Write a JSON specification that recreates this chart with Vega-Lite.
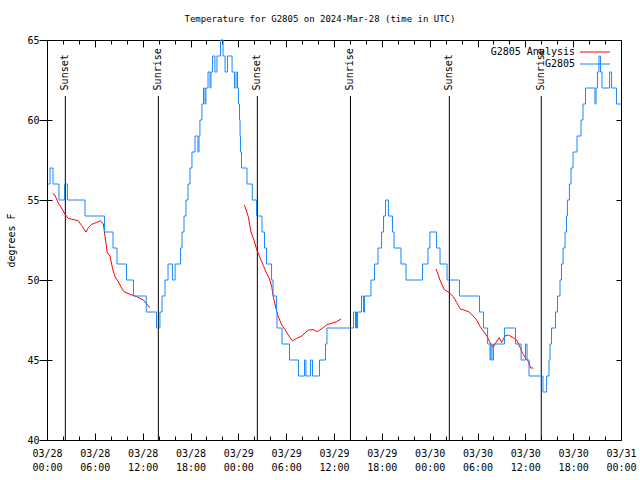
{
  "$schema": "https://vega.github.io/schema/vega-lite/v6.json",
  "width": 574,
  "height": 400,
  "autosize": "none",
  "padding": {"left": 47, "top": 40, "right": 19, "bottom": 40},
  "background": "white",
  "title": {"text": "Temperature for G2805 on 2024-Mar-28 (time in UTC)", "font": "DejaVu Sans Mono", "fontSize": 9, "fontWeight": "normal", "color": "black", "anchor": "middle", "frame": "group", "dx": -14, "offset": 11},
  "config": {
    "view": {"stroke": "black", "strokeWidth": 1},
    "font": "DejaVu Sans Mono",
    "axis": {"domain": false, "grid": false, "labelColor": "black", "tickColor": "black", "titleColor": "black", "labelFont": "DejaVu Sans Mono", "titleFont": "DejaVu Sans Mono", "labelFontSize": 10, "titleFontSize": 10, "titleFontWeight": "normal", "labelFlush": false, "labelOverlap": false, "labelBound": false, "tickWidth": 1}
  },
  "datasets": {
    "sun": [
      {"t": "2024-03-28T02:18:00Z", "label": "Sunset"},
      {"t": "2024-03-28T13:58:00Z", "label": "Sunrise"},
      {"t": "2024-03-29T02:23:00Z", "label": "Sunset"},
      {"t": "2024-03-29T14:04:00Z", "label": "Sunrise"},
      {"t": "2024-03-30T02:28:00Z", "label": "Sunset"},
      {"t": "2024-03-30T14:00:00Z", "label": "Sunrise"}
    ],
    "ana": [
      {"t": "2024-03-28T00:43:00Z", "v": 55.4, "seg": 1},
      {"t": "2024-03-28T01:00:00Z", "v": 55.3, "seg": 1},
      {"t": "2024-03-28T01:25:00Z", "v": 54.8, "seg": 1},
      {"t": "2024-03-28T01:50:00Z", "v": 54.5, "seg": 1},
      {"t": "2024-03-28T02:16:00Z", "v": 54.1, "seg": 1},
      {"t": "2024-03-28T02:40:00Z", "v": 53.85, "seg": 1},
      {"t": "2024-03-28T03:06:00Z", "v": 53.8, "seg": 1},
      {"t": "2024-03-28T03:56:00Z", "v": 53.7, "seg": 1},
      {"t": "2024-03-28T04:21:00Z", "v": 53.4, "seg": 1},
      {"t": "2024-03-28T04:53:00Z", "v": 53.0, "seg": 1},
      {"t": "2024-03-28T05:11:00Z", "v": 53.27, "seg": 1},
      {"t": "2024-03-28T05:37:00Z", "v": 53.48, "seg": 1},
      {"t": "2024-03-28T06:14:00Z", "v": 53.6, "seg": 1},
      {"t": "2024-03-28T06:44:00Z", "v": 53.7, "seg": 1},
      {"t": "2024-03-28T07:04:00Z", "v": 53.5, "seg": 1},
      {"t": "2024-03-28T07:17:00Z", "v": 52.7, "seg": 1},
      {"t": "2024-03-28T07:34:00Z", "v": 51.7, "seg": 1},
      {"t": "2024-03-28T07:54:00Z", "v": 51.5, "seg": 1},
      {"t": "2024-03-28T08:14:00Z", "v": 50.7, "seg": 1},
      {"t": "2024-03-28T08:32:00Z", "v": 50.2, "seg": 1},
      {"t": "2024-03-28T08:56:00Z", "v": 49.9, "seg": 1},
      {"t": "2024-03-28T09:22:00Z", "v": 49.5, "seg": 1},
      {"t": "2024-03-28T09:40:00Z", "v": 49.27, "seg": 1},
      {"t": "2024-03-28T10:25:00Z", "v": 49.1, "seg": 1},
      {"t": "2024-03-28T11:15:00Z", "v": 48.96, "seg": 1},
      {"t": "2024-03-28T12:05:00Z", "v": 48.75, "seg": 1},
      {"t": "2024-03-28T12:31:00Z", "v": 48.5, "seg": 1},
      {"t": "2024-03-28T12:50:00Z", "v": 48.3, "seg": 1},
      {"t": "2024-03-28T12:57:00Z", "v": 48.3, "seg": 1},
      {"t": "2024-03-29T00:45:00Z", "v": 54.7, "seg": 2},
      {"t": "2024-03-29T01:15:00Z", "v": 53.96, "seg": 2},
      {"t": "2024-03-29T01:35:00Z", "v": 53.0, "seg": 2},
      {"t": "2024-03-29T01:58:00Z", "v": 52.5, "seg": 2},
      {"t": "2024-03-29T02:18:00Z", "v": 51.9, "seg": 2},
      {"t": "2024-03-29T02:43:00Z", "v": 51.4, "seg": 2},
      {"t": "2024-03-29T03:08:00Z", "v": 50.9, "seg": 2},
      {"t": "2024-03-29T03:34:00Z", "v": 50.4, "seg": 2},
      {"t": "2024-03-29T03:53:00Z", "v": 50.1, "seg": 2},
      {"t": "2024-03-29T04:11:00Z", "v": 49.6, "seg": 2},
      {"t": "2024-03-29T04:23:00Z", "v": 48.96, "seg": 2},
      {"t": "2024-03-29T04:41:00Z", "v": 48.3, "seg": 2},
      {"t": "2024-03-29T05:01:00Z", "v": 47.7, "seg": 2},
      {"t": "2024-03-29T05:26:00Z", "v": 47.2, "seg": 2},
      {"t": "2024-03-29T05:51:00Z", "v": 46.9, "seg": 2},
      {"t": "2024-03-29T06:16:00Z", "v": 46.56, "seg": 2},
      {"t": "2024-03-29T06:46:00Z", "v": 46.2, "seg": 2},
      {"t": "2024-03-29T07:19:00Z", "v": 46.35, "seg": 2},
      {"t": "2024-03-29T07:57:00Z", "v": 46.5, "seg": 2},
      {"t": "2024-03-29T08:47:00Z", "v": 46.87, "seg": 2},
      {"t": "2024-03-29T09:24:00Z", "v": 46.9, "seg": 2},
      {"t": "2024-03-29T09:55:00Z", "v": 46.77, "seg": 2},
      {"t": "2024-03-29T10:35:00Z", "v": 47.0, "seg": 2},
      {"t": "2024-03-29T11:05:00Z", "v": 47.2, "seg": 2},
      {"t": "2024-03-29T11:43:00Z", "v": 47.3, "seg": 2},
      {"t": "2024-03-29T12:20:00Z", "v": 47.4, "seg": 2},
      {"t": "2024-03-29T12:53:00Z", "v": 47.56, "seg": 2},
      {"t": "2024-03-30T00:48:00Z", "v": 50.7, "seg": 3},
      {"t": "2024-03-30T01:18:00Z", "v": 50.0, "seg": 3},
      {"t": "2024-03-30T01:50:00Z", "v": 49.4, "seg": 3},
      {"t": "2024-03-30T02:28:00Z", "v": 49.2, "seg": 3},
      {"t": "2024-03-30T02:58:00Z", "v": 48.96, "seg": 3},
      {"t": "2024-03-30T03:23:00Z", "v": 48.6, "seg": 3},
      {"t": "2024-03-30T03:49:00Z", "v": 48.2, "seg": 3},
      {"t": "2024-03-30T04:26:00Z", "v": 48.1, "seg": 3},
      {"t": "2024-03-30T04:58:00Z", "v": 48.0, "seg": 3},
      {"t": "2024-03-30T05:28:00Z", "v": 47.75, "seg": 3},
      {"t": "2024-03-30T05:54:00Z", "v": 47.5, "seg": 3},
      {"t": "2024-03-30T06:19:00Z", "v": 47.1, "seg": 3},
      {"t": "2024-03-30T06:44:00Z", "v": 46.8, "seg": 3},
      {"t": "2024-03-30T07:10:00Z", "v": 46.5, "seg": 3},
      {"t": "2024-03-30T07:34:00Z", "v": 46.1, "seg": 3},
      {"t": "2024-03-30T07:59:00Z", "v": 45.8, "seg": 3},
      {"t": "2024-03-30T08:19:00Z", "v": 46.1, "seg": 3},
      {"t": "2024-03-30T08:44:00Z", "v": 46.4, "seg": 3},
      {"t": "2024-03-30T09:02:00Z", "v": 46.1, "seg": 3},
      {"t": "2024-03-30T09:27:00Z", "v": 46.5, "seg": 3},
      {"t": "2024-03-30T09:52:00Z", "v": 46.56, "seg": 3},
      {"t": "2024-03-30T10:29:00Z", "v": 46.4, "seg": 3},
      {"t": "2024-03-30T10:55:00Z", "v": 46.25, "seg": 3},
      {"t": "2024-03-30T11:20:00Z", "v": 45.8, "seg": 3},
      {"t": "2024-03-30T11:40:00Z", "v": 45.4, "seg": 3},
      {"t": "2024-03-30T12:05:00Z", "v": 45.1, "seg": 3},
      {"t": "2024-03-30T12:23:00Z", "v": 44.9, "seg": 3},
      {"t": "2024-03-30T12:40:00Z", "v": 44.5, "seg": 3},
      {"t": "2024-03-30T13:00:00Z", "v": 44.5, "seg": 3}
    ],
    "obs": [
      {"t": "2024-03-28T00:08:00Z", "v": 56},
      {"t": "2024-03-28T00:23:00Z", "v": 57},
      {"t": "2024-03-28T00:45:00Z", "v": 56},
      {"t": "2024-03-28T01:30:00Z", "v": 55},
      {"t": "2024-03-28T02:12:00Z", "v": 56},
      {"t": "2024-03-28T02:34:00Z", "v": 55},
      {"t": "2024-03-28T04:46:00Z", "v": 54},
      {"t": "2024-03-28T07:13:00Z", "v": 53},
      {"t": "2024-03-28T08:17:00Z", "v": 52},
      {"t": "2024-03-28T08:47:00Z", "v": 51},
      {"t": "2024-03-28T09:58:00Z", "v": 50},
      {"t": "2024-03-28T10:51:00Z", "v": 49},
      {"t": "2024-03-28T12:27:00Z", "v": 48},
      {"t": "2024-03-28T13:44:00Z", "v": 47},
      {"t": "2024-03-28T14:10:00Z", "v": 48},
      {"t": "2024-03-28T14:26:00Z", "v": 49},
      {"t": "2024-03-28T14:48:00Z", "v": 50},
      {"t": "2024-03-28T15:11:00Z", "v": 51},
      {"t": "2024-03-28T15:44:00Z", "v": 50},
      {"t": "2024-03-28T16:04:00Z", "v": 51},
      {"t": "2024-03-28T16:45:00Z", "v": 52},
      {"t": "2024-03-28T16:56:00Z", "v": 53},
      {"t": "2024-03-28T17:11:00Z", "v": 54},
      {"t": "2024-03-28T17:26:00Z", "v": 55},
      {"t": "2024-03-28T17:41:00Z", "v": 56},
      {"t": "2024-03-28T17:56:00Z", "v": 57},
      {"t": "2024-03-28T18:11:00Z", "v": 58},
      {"t": "2024-03-28T18:34:00Z", "v": 59},
      {"t": "2024-03-28T18:56:00Z", "v": 58},
      {"t": "2024-03-28T19:04:00Z", "v": 59},
      {"t": "2024-03-28T19:11:00Z", "v": 60},
      {"t": "2024-03-28T19:26:00Z", "v": 61},
      {"t": "2024-03-28T19:38:00Z", "v": 62},
      {"t": "2024-03-28T19:49:00Z", "v": 61},
      {"t": "2024-03-28T19:56:00Z", "v": 62},
      {"t": "2024-03-28T20:12:00Z", "v": 63},
      {"t": "2024-03-28T20:27:00Z", "v": 62},
      {"t": "2024-03-28T20:34:00Z", "v": 63},
      {"t": "2024-03-28T20:46:00Z", "v": 64},
      {"t": "2024-03-28T21:04:00Z", "v": 63},
      {"t": "2024-03-28T21:19:00Z", "v": 64},
      {"t": "2024-03-28T21:46:00Z", "v": 65},
      {"t": "2024-03-28T22:05:00Z", "v": 64},
      {"t": "2024-03-28T22:20:00Z", "v": 63},
      {"t": "2024-03-28T22:38:00Z", "v": 64},
      {"t": "2024-03-28T23:13:00Z", "v": 63},
      {"t": "2024-03-28T23:31:00Z", "v": 62},
      {"t": "2024-03-28T23:43:00Z", "v": 63},
      {"t": "2024-03-28T23:54:00Z", "v": 62},
      {"t": "2024-03-29T00:01:00Z", "v": 61},
      {"t": "2024-03-29T00:09:00Z", "v": 60},
      {"t": "2024-03-29T00:13:00Z", "v": 59},
      {"t": "2024-03-29T00:16:00Z", "v": 58},
      {"t": "2024-03-29T00:24:00Z", "v": 57},
      {"t": "2024-03-29T01:05:00Z", "v": 56},
      {"t": "2024-03-29T01:45:00Z", "v": 55},
      {"t": "2024-03-29T02:17:00Z", "v": 54},
      {"t": "2024-03-29T02:58:00Z", "v": 53},
      {"t": "2024-03-29T03:17:00Z", "v": 52},
      {"t": "2024-03-29T03:32:00Z", "v": 51},
      {"t": "2024-03-29T04:10:00Z", "v": 50},
      {"t": "2024-03-29T04:21:00Z", "v": 49},
      {"t": "2024-03-29T04:47:00Z", "v": 48},
      {"t": "2024-03-29T04:51:00Z", "v": 47},
      {"t": "2024-03-29T05:29:00Z", "v": 46},
      {"t": "2024-03-29T06:25:00Z", "v": 45},
      {"t": "2024-03-29T07:33:00Z", "v": 44},
      {"t": "2024-03-29T08:18:00Z", "v": 45},
      {"t": "2024-03-29T08:29:00Z", "v": 44},
      {"t": "2024-03-29T09:03:00Z", "v": 45},
      {"t": "2024-03-29T09:18:00Z", "v": 44},
      {"t": "2024-03-29T10:11:00Z", "v": 45},
      {"t": "2024-03-29T10:56:00Z", "v": 46},
      {"t": "2024-03-29T11:07:00Z", "v": 47},
      {"t": "2024-03-29T14:27:00Z", "v": 48},
      {"t": "2024-03-29T14:42:00Z", "v": 47},
      {"t": "2024-03-29T14:46:00Z", "v": 48},
      {"t": "2024-03-29T14:49:00Z", "v": 47},
      {"t": "2024-03-29T14:57:00Z", "v": 48},
      {"t": "2024-03-29T15:27:00Z", "v": 49},
      {"t": "2024-03-29T15:42:00Z", "v": 48},
      {"t": "2024-03-29T15:50:00Z", "v": 49},
      {"t": "2024-03-29T16:38:00Z", "v": 50},
      {"t": "2024-03-29T17:05:00Z", "v": 51},
      {"t": "2024-03-29T17:31:00Z", "v": 52},
      {"t": "2024-03-29T17:58:00Z", "v": 53},
      {"t": "2024-03-29T18:13:00Z", "v": 54},
      {"t": "2024-03-29T18:28:00Z", "v": 55},
      {"t": "2024-03-29T18:50:00Z", "v": 54},
      {"t": "2024-03-29T19:20:00Z", "v": 53},
      {"t": "2024-03-29T19:32:00Z", "v": 52},
      {"t": "2024-03-29T20:24:00Z", "v": 51},
      {"t": "2024-03-29T21:02:00Z", "v": 50},
      {"t": "2024-03-29T23:06:00Z", "v": 51},
      {"t": "2024-03-29T23:47:00Z", "v": 52},
      {"t": "2024-03-30T00:02:00Z", "v": 53},
      {"t": "2024-03-30T00:52:00Z", "v": 52},
      {"t": "2024-03-30T01:18:00Z", "v": 51},
      {"t": "2024-03-30T02:11:00Z", "v": 50},
      {"t": "2024-03-30T03:44:00Z", "v": 49},
      {"t": "2024-03-30T06:15:00Z", "v": 48},
      {"t": "2024-03-30T06:45:00Z", "v": 47},
      {"t": "2024-03-30T07:16:00Z", "v": 46},
      {"t": "2024-03-30T07:34:00Z", "v": 45},
      {"t": "2024-03-30T07:41:00Z", "v": 46},
      {"t": "2024-03-30T07:49:00Z", "v": 45},
      {"t": "2024-03-30T08:00:00Z", "v": 46},
      {"t": "2024-03-30T09:23:00Z", "v": 47},
      {"t": "2024-03-30T10:46:00Z", "v": 46},
      {"t": "2024-03-30T11:28:00Z", "v": 45},
      {"t": "2024-03-30T12:01:00Z", "v": 46},
      {"t": "2024-03-30T12:13:00Z", "v": 45},
      {"t": "2024-03-30T12:28:00Z", "v": 44},
      {"t": "2024-03-30T14:13:00Z", "v": 43},
      {"t": "2024-03-30T14:40:00Z", "v": 44},
      {"t": "2024-03-30T14:58:00Z", "v": 45},
      {"t": "2024-03-30T15:06:00Z", "v": 46},
      {"t": "2024-03-30T15:17:00Z", "v": 47},
      {"t": "2024-03-30T15:47:00Z", "v": 48},
      {"t": "2024-03-30T16:02:00Z", "v": 49},
      {"t": "2024-03-30T16:21:00Z", "v": 50},
      {"t": "2024-03-30T16:32:00Z", "v": 51},
      {"t": "2024-03-30T16:44:00Z", "v": 52},
      {"t": "2024-03-30T16:59:00Z", "v": 53},
      {"t": "2024-03-30T17:10:00Z", "v": 54},
      {"t": "2024-03-30T17:17:00Z", "v": 55},
      {"t": "2024-03-30T17:32:00Z", "v": 56},
      {"t": "2024-03-30T17:44:00Z", "v": 57},
      {"t": "2024-03-30T17:59:00Z", "v": 58},
      {"t": "2024-03-30T18:29:00Z", "v": 59},
      {"t": "2024-03-30T18:59:00Z", "v": 60},
      {"t": "2024-03-30T19:14:00Z", "v": 61},
      {"t": "2024-03-30T19:33:00Z", "v": 62},
      {"t": "2024-03-30T20:44:00Z", "v": 61},
      {"t": "2024-03-30T20:52:00Z", "v": 62},
      {"t": "2024-03-30T21:03:00Z", "v": 63},
      {"t": "2024-03-30T21:14:00Z", "v": 64},
      {"t": "2024-03-30T21:26:00Z", "v": 63},
      {"t": "2024-03-30T21:37:00Z", "v": 62},
      {"t": "2024-03-30T22:34:00Z", "v": 63},
      {"t": "2024-03-30T22:49:00Z", "v": 62},
      {"t": "2024-03-30T23:26:00Z", "v": 61},
      {"t": "2024-03-31T00:00:00Z", "v": 61}
    ]
  },
  "layer": [
    {
      "data": {"name": "sun"},
      "mark": {"type": "rule", "color": "black", "strokeWidth": 1},
      "encoding": {
        "x": {"field": "t", "type": "temporal", "scale": {"type": "utc", "domain": [1711584000000, 1711843200000]},
          "axis": {"orient": "bottom", "ticks": false, "domain": false,
            "values": [1711584000000, 1711605600000, 1711627200000, 1711648800000, 1711670400000, 1711692000000, 1711713600000, 1711735200000, 1711756800000, 1711778400000, 1711800000000, 1711821600000, 1711843200000],
            "labelExpr": "[utcFormat(datum.value, '%m/%d'), utcFormat(datum.value, '%H:%M')]", "labelPadding": 8, "labelLineHeight": 14, "labelBaseline": "top", "labelAlign": "center", "title": null}},
        "y": {"datum": 61.5, "type": "quantitative", "scale": {"domain": [40, 65], "nice": false, "zero": false},
          "axis": {"orient": "left", "ticks": true, "tickSize": 8, "values": [40, 45, 50, 55, 60, 65], "labelPadding": 0, "title": "degrees F", "titlePadding": 10}},
        "y2": {"datum": 40}
      }
    },
    {
      "data": {"name": "sun"},
      "mark": {"type": "text", "angle": 270, "align": "left", "baseline": "middle", "font": "DejaVu Sans Mono", "fontSize": 10, "color": "black"},
      "encoding": {
        "x": {"field": "t", "type": "temporal",
          "axis": {"orient": "bottom", "labels": false, "domain": false,
            "values": [1711584000000, 1711591200000, 1711598400000, 1711605600000, 1711612800000, 1711620000000, 1711627200000, 1711634400000, 1711641600000, 1711648800000, 1711656000000, 1711663200000, 1711670400000, 1711677600000, 1711684800000, 1711692000000, 1711699200000, 1711706400000, 1711713600000, 1711720800000, 1711728000000, 1711735200000, 1711742400000, 1711749600000, 1711756800000, 1711764000000, 1711771200000, 1711778400000, 1711785600000, 1711792800000, 1711800000000, 1711807200000, 1711814400000, 1711821600000, 1711828800000, 1711836000000, 1711843200000],
            "tickSize": {"condition": {"test": "datum.value % 21600000 === 0", "value": -7}, "value": -4}, "title": null}},
        "y": {"datum": 61.85, "type": "quantitative",
          "axis": {"orient": "right", "labels": false, "values": [40, 45, 50, 55, 60, 65], "tickSize": -5, "title": null}},
        "text": {"field": "label"}
      }
    },
    {
      "data": {"name": "ana"},
      "mark": {"type": "line", "strokeWidth": 1, "interpolate": "linear"},
      "encoding": {
        "x": {"field": "t", "type": "temporal",
          "axis": {"orient": "top", "labels": false, "domain": false,
            "values": [1711584000000, 1711591200000, 1711598400000, 1711605600000, 1711612800000, 1711620000000, 1711627200000, 1711634400000, 1711641600000, 1711648800000, 1711656000000, 1711663200000, 1711670400000, 1711677600000, 1711684800000, 1711692000000, 1711699200000, 1711706400000, 1711713600000, 1711720800000, 1711728000000, 1711735200000, 1711742400000, 1711749600000, 1711756800000, 1711764000000, 1711771200000, 1711778400000, 1711785600000, 1711792800000, 1711800000000, 1711807200000, 1711814400000, 1711821600000, 1711828800000, 1711836000000, 1711843200000],
            "tickSize": {"condition": {"test": "datum.value % 21600000 === 0", "value": -7}, "value": -4}, "title": null}},
        "y": {"field": "v", "type": "quantitative",
          "axis": {"orient": "left", "labels": false, "values": [40, 45, 50, 55, 60, 65], "tickSize": -5, "title": null}},
        "detail": {"field": "seg", "type": "nominal"},
        "color": {"datum": "G2805 Analysis", "type": "nominal",
          "scale": {"domain": ["G2805 Analysis", "G2805"], "range": ["#ff0000", "#1a88ff"]},
          "legend": {"orient": "none", "legendX": 543, "legendY": 7, "title": null, "symbolType": "M-5,0H5", "symbolSize": 36, "symbolStrokeWidth": 1, "labelAlign": "right", "labelOffset": -25, "labelFont": "DejaVu Sans Mono", "labelFontSize": 10, "labelColor": "black", "rowPadding": 2, "padding": 0}}
      }
    },
    {
      "data": {"name": "obs"},
      "mark": {"type": "line", "strokeWidth": 1, "interpolate": "step-after"},
      "encoding": {
        "x": {"field": "t", "type": "temporal", "axis": null},
        "y": {"field": "v", "type": "quantitative", "axis": null},
        "color": {"datum": "G2805", "type": "nominal"}
      }
    }
  ],
  "resolve": {"axis": {"x": "independent", "y": "independent"}}
}
